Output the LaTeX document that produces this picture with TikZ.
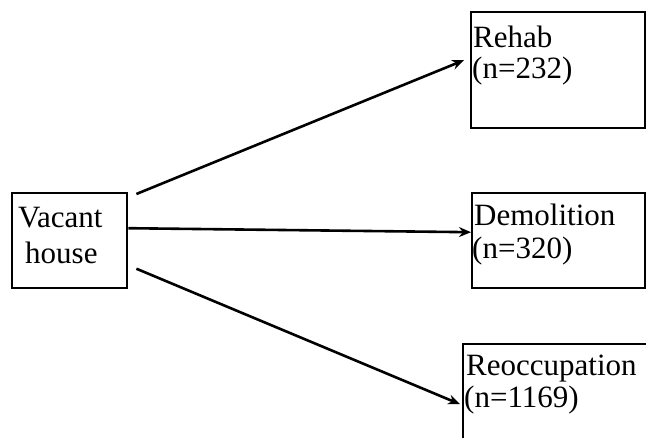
\documentclass[tikz,border=0pt]{standalone}
\usepackage{fontspec}
\setmainfont{Liberation Serif}
\usetikzlibrary{arrows.meta,calc}

\tikzset{
  box/.style={draw=black, line width=2.4pt, inner sep=0pt, anchor=north west},
  txt/.style={anchor=base west, inner sep=0pt, font=\fontsize{31}{33}\selectfont},
  flow/.style={line width=2.6pt, -{Stealth[length=12pt,width=10pt]}}
}

\begin{document}
\begin{tikzpicture}[x=1pt,y=-1pt]
  \useasboundingbox (0,0) rectangle (646,437);
  \clip (0,0) rectangle (646,437);

  % boxes
  \node[box, minimum width=115pt, minimum height=95pt] (vac)   at (11,192)  {};
  \node[box, minimum width=174pt, minimum height=116pt] (rehab) at (470,11)  {};
  \node[box, minimum width=173pt, minimum height=95pt] (demo)  at (471,192) {};
  \node[box, minimum width=200pt, minimum height=110pt] (reocc) at (462,343) {};

  % labels
  \node[txt] (vac1) at (18,227) {Vacant};
  \node[txt] (vac2) at (25,263) {house};
  \node[txt] (reh1) at (473,47)  {Rehab};
  \node[txt] (reh2) at (472,78)  {(n=232)};
  \node[txt] (dem1) at (474,225) {Demolition};
  \node[txt] (dem2) at (472,258) {(n=320)};
  \node[txt] (reo1) at (466,375) {Reoccupation};
  \node[txt] (reo2) at (464,407) {(n=1169)};

  % connectors
  \draw[flow] ($(vac.north east)+(8,2)$) -- ($(rehab.west)+(-6,-10)$);
  \draw[flow] ($(vac.east)+(0,-12.5)$) -- ($(demo.west)+(0,-8.5)$);
  \draw[flow] ($(vac.east)+(8,28)$) -- ($(reocc.west)+(-2,5)$);
\end{tikzpicture}
\end{document}
